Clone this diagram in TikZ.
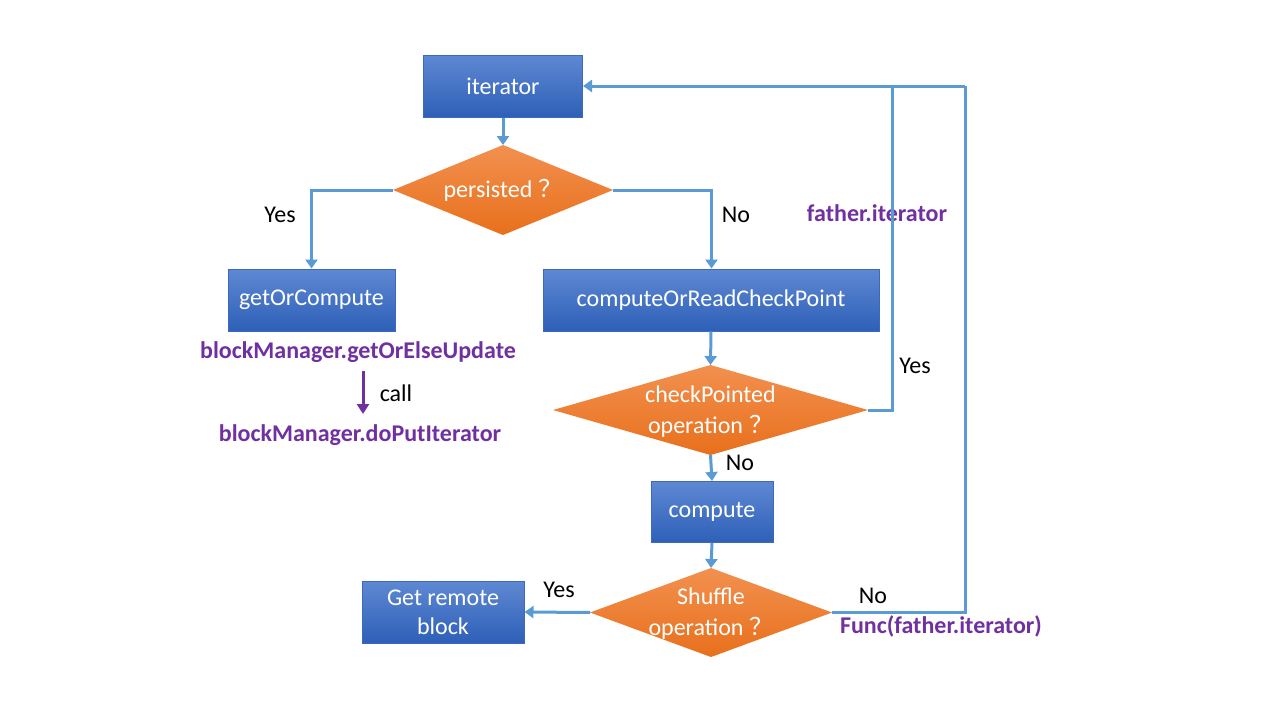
\documentclass[tikz,border=0pt]{standalone}
\usepackage{fontspec}
\setmainfont{Carlito}
\newfontfamily\cjk{Noto Sans CJK SC}
\usetikzlibrary{shapes.geometric,arrows.meta}
\definecolor{lineblue}{HTML}{5B9BD5}
\definecolor{boxtop}{HTML}{5E88D2}
\definecolor{boxbot}{HTML}{2E60B8}
\definecolor{boxedge}{HTML}{3C69BD}
\definecolor{ortop}{HTML}{F2904F}
\definecolor{orbot}{HTML}{E8701C}
\definecolor{purp}{HTML}{7030A0}
\newcommand{\qm}{\kern0.25em{\cjk ？}}
\newcommand{\dtext}[1]{\smash{\makebox[0pt]{\raisebox{-0.33em}{\begin{tabular}[c]{@{}c@{}}#1\end{tabular}}}}}
\tikzset{
  blockbox/.style={rectangle, draw=boxedge, line width=1pt, top color=boxtop, bottom color=boxbot,
    text=white, font=\fontsize{24}{29}\selectfont, inner sep=0pt, align=center},
  decide/.style={diamond, top color=ortop, bottom color=orbot, text=white,
    font=\fontsize{24}{30}\selectfont, inner sep=0pt, outer sep=0pt},
  flow/.style={draw=lineblue, line width=3pt, -{Triangle[width=12pt,length=9pt]}},
  plain/.style={draw=lineblue, line width=3pt},
  lab/.style={text=black, font=\fontsize{24}{29}\selectfont, inner sep=0pt},
  plab/.style={text=purp, font=\fontsize{24}{29}\selectfont\bfseries, inner sep=0pt},
}
\begin{document}
\begin{tikzpicture}[x=1pt,y=-1pt]
\useasboundingbox[fill=white] (0,0) rectangle (1280,720);
% boxes
\node[blockbox, minimum width=159, minimum height=62] (it) at (503,86) {iterator};
\node[decide, minimum width=220, minimum height=90] (pers) at (503,190) {\dtext{persisted\qm}};
\node[blockbox, minimum width=167, minimum height=62] (goc) at (311.5,300) {getOrCompute};
\node[blockbox, minimum width=336, minimum height=62] (corc) at (711,300) {computeOrReadCheckPoint};
\node[decide, minimum width=315, minimum height=90] (chk) at (710.5,410) {\dtext{checkPointed\\[1pt]operation\qm}};
\node[blockbox, minimum width=122, minimum height=61] (comp) at (712,512) {compute};
\node[decide, minimum width=242, minimum height=89] (shuf) at (711,612.5) {\dtext{Shuffle\\[1pt]operation\qm}};
\node[blockbox, minimum width=162, minimum height=62] (grb) at (443,612) {Get remote\\block};
% labels
\node[plab] (gou) at (358,352) {blockManager.getOrElseUpdate};
\node[plab] (dpi) at (360,435) {blockManager.doPutIterator};
\node[lab] (call) at (396,393) {call};
\node[lab] (y1) at (280,215) {Yes};
\node[lab] (n1) at (736,215) {No};
\node[plab] (fi) at (877,213) {father.iterator};
\node[lab] (y2) at (915,366) {Yes};
\node[lab] (n2) at (740,463) {No};
\node[lab] (y3) at (559,590) {Yes};
\node[lab] (n3) at (873,596) {No};
\node[plab] (ff) at (941,626) {Func(father.iterator)};
\coordinate (cA) at (892,86);
\coordinate (cB) at (965,86);
\coordinate (pa) at (363,371);
\coordinate (pb) at (363,414);
% connectors
\draw[flow] (it.south) -- (pers.north);
\draw[flow] (pers.west) -| (goc.north);
\draw[flow] (pers.east) -| ([xshift=0.5pt]corc.north);
\draw[flow] (corc.south) -- (chk.north);
\draw[flow] (chk.south) -- (comp.north);
\draw[flow] (comp.south) -- (shuf.north);
\draw[flow] (shuf.west) -- (grb.east);
\draw[plain] (chk.east) -| (cA);
\draw[plain] (shuf.east) -| (cB);
\draw[flow] (cB) -- (it.east);
\draw[draw=purp, line width=3pt, -{Triangle[width=12pt,length=10pt]}] (pa) -- (pb);
\end{tikzpicture}
\end{document}
